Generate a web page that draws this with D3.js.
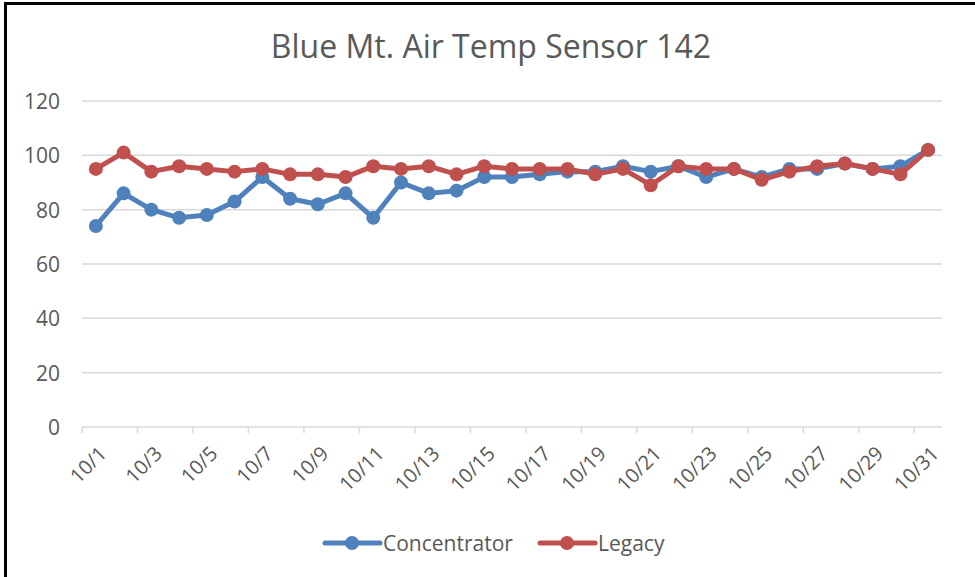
<!DOCTYPE html>
<html><head><meta charset="utf-8">
<script src="https://cdn.jsdelivr.net/npm/d3@7"></script>
<style>body{margin:0;background:#fff}svg{display:block}text{font-family:"Open Sans",sans-serif;fill:#595959}</style>
</head><body>
<svg id="c" width="975" height="577"></svg>
<script>
const categories = d3.range(1,32).map(d => "10/" + d);
const concentrator = [74,86,80,77,78,83,92,84,82,86,77,90,86,87,92,92,93,94,94,96,94,96,92,95,92,95,95,97,95,96,102];
const legacy = [95,101,94,96,95,94,95,93,93,92,96,95,96,93,96,95,95,95,93,95,89,96,95,95,91,94,96,97,95,93,102];
const yTicks = [0,20,40,60,80,100,120];
const seriesNames = ["Concentrator","Legacy"];
const colors = ["#4f81bd","#c0504d"];

const svg = d3.select("#c");
svg.append("rect").attr("x",5.5).attr("y",3.5).attr("width",1000).attr("height",600)
  .attr("fill","#fff").attr("stroke","#000").attr("stroke-width",3);

const L=82, R=942, T=101, B=427;
const x = d3.scaleBand().domain(categories).range([L,R]);
const y = d3.scaleLinear().domain([0,120]).range([B,T]);

svg.append("text").attr("x",491).attr("y",58).attr("text-anchor","middle")
  .style("font-size","32px").text("Blue Mt. Air Temp Sensor 142");

// gridlines
svg.append("g").selectAll("line").data(yTicks.filter(d=>d>0)).join("line")
  .attr("x1",L).attr("x2",R).attr("y1",d=>y(d)).attr("y2",d=>y(d))
  .attr("stroke","#d9d9d9").attr("stroke-width",1.5);
svg.append("g").selectAll("text").data(yTicks).join("text")
  .attr("x",60).attr("y",d=>y(d)+8).attr("text-anchor","end")
  .style("font-size","21px").text(d=>d);

// x axis
svg.append("line").attr("x1",L).attr("x2",R).attr("y1",B).attr("y2",B).attr("stroke","#d9d9d9").attr("stroke-width",1.5);
const tickIdx = d3.range(0,31,2);
svg.append("g").selectAll("line").data(tickIdx).join("line")
  .attr("x1",i=>x(categories[i])).attr("x2",i=>x(categories[i]))
  .attr("y1",B).attr("y2",B+6).attr("stroke","#d9d9d9").attr("stroke-width",1.5);
svg.append("g").selectAll("text").data(tickIdx).join("text")
  .attr("text-anchor","end")
  .attr("transform",i=>`translate(${x(categories[i])+x.bandwidth()/2+12},${B+28}) rotate(-45)`)
  .style("font-size","20px").text(i=>categories[i]);

// series
const line = d3.line().x((d,i)=>x(categories[i])+x.bandwidth()/2).y(d=>y(d));
[concentrator, legacy].forEach((s,k)=>{
  const g = svg.append("g");
  g.append("path").attr("d",line(s)).attr("fill","none").attr("stroke",colors[k])
    .attr("stroke-width",5).attr("stroke-linejoin","round");
  g.selectAll("circle").data(s).join("circle")
    .attr("cx",(d,i)=>x(categories[i])+x.bandwidth()/2).attr("cy",d=>y(d))
    .attr("r",7).attr("fill",colors[k]);
});

// legend
const lx = [325,540];
seriesNames.forEach((n,k)=>{
  const g = svg.append("g");
  g.append("line").attr("x1",lx[k]).attr("x2",lx[k]+55).attr("y1",543).attr("y2",543)
    .attr("stroke",colors[k]).attr("stroke-width",5).attr("stroke-linecap","round");
  g.append("circle").attr("cx",lx[k]+27).attr("cy",543).attr("r",7).attr("fill",colors[k]);
  g.append("text").attr("x",lx[k]+58).attr("y",551).style("font-size","21px").text(n);
});
</script>
</body></html>
